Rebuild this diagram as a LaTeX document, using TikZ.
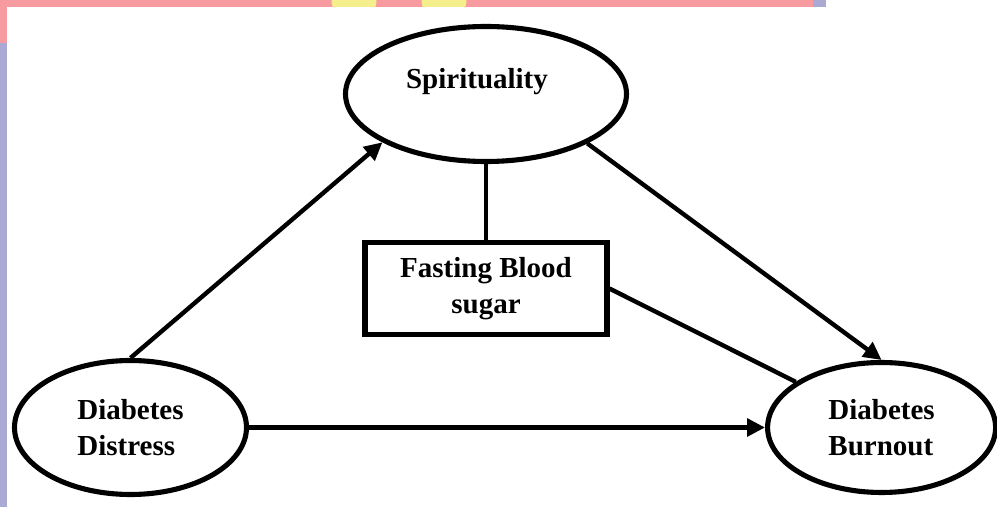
\documentclass[tikz,border=0pt]{standalone}
\usepackage{fontspec}
\setmainfont{Liberation Serif}
\usepackage{tikz}
\usetikzlibrary{arrows.meta,positioning,shapes.geometric}
\definecolor{ink}{HTML}{000000}
\definecolor{bandpink}{HTML}{F79BA0}
\definecolor{bandlilac}{HTML}{A9A9D4}
\definecolor{bandyellow}{HTML}{F4EE8C}
\tikzset{
  >={Triangle[length=3.6mm,width=3.5mm]},
  bubble/.style={ellipse,draw=ink,fill=white,line width=2.9pt,inner sep=0pt,align=left,
    font=\fontsize{16.5}{20.8}\selectfont\bfseries},
  factor/.style={rectangle,draw=ink,fill=white,line width=2.9pt,inner sep=0pt,align=center,
    minimum width=4.84cm,minimum height=1.84cm,font=\fontsize{16.5}{21}\selectfont\bfseries},
  flow/.style={->,line width=2.5pt,color=ink},
  link/.style={line width=2.5pt,color=ink},
}

\begin{document}
\begin{tikzpicture}
  \useasboundingbox (0,0) rectangle (19.94,-10.14);
  % page band behind the figure
  \fill[bandpink] (0,0) rectangle (16.26,-0.14);
  \fill[bandlilac] (16.26,0) rectangle (16.52,-0.14);
  \begin{scope}
    \clip (0,0) rectangle (16.26,-0.14);
    \fill[bandyellow] (7.08,-0.04) ellipse (0.45 and 0.3);
    \fill[bandyellow] (8.88,-0.04) ellipse (0.45 and 0.3);
  \end{scope}
  \fill[bandpink] (0,0) rectangle (0.14,-0.86);
  \fill[bandlilac] (0,-0.86) rectangle (0.14,-10.14);

  \node[bubble,minimum width=5.62cm,minimum height=2.7cm,
    label={[font=\fontsize{16.5}{20.8}\selectfont\bfseries,xshift=-0.18cm,yshift=0.25cm]center:Spirituality}]
    (spirit) at (9.72,-1.88) {};
  \node[factor,below=1.52cm of spirit] (sugar) {Fasting Blood\\sugar};
  \node[bubble,minimum width=4.64cm,minimum height=2.68cm] (distress) at (2.61,-8.55) {Diabetes\\Distress};
  \node[bubble,minimum width=4.56cm,minimum height=2.6cm,right=10.32cm of distress] (burnout) {Diabetes\\Burnout};

  \draw[link] (spirit.south) -- (sugar.north);
  \draw[link] (sugar.east) -- (burnout.152);
  \draw[flow] (distress.north) -- (spirit.205);
  \draw[flow] (spirit.334) -- (burnout.north);
  \draw[flow] (distress.east) -- (burnout.west);
\end{tikzpicture}
\end{document}
